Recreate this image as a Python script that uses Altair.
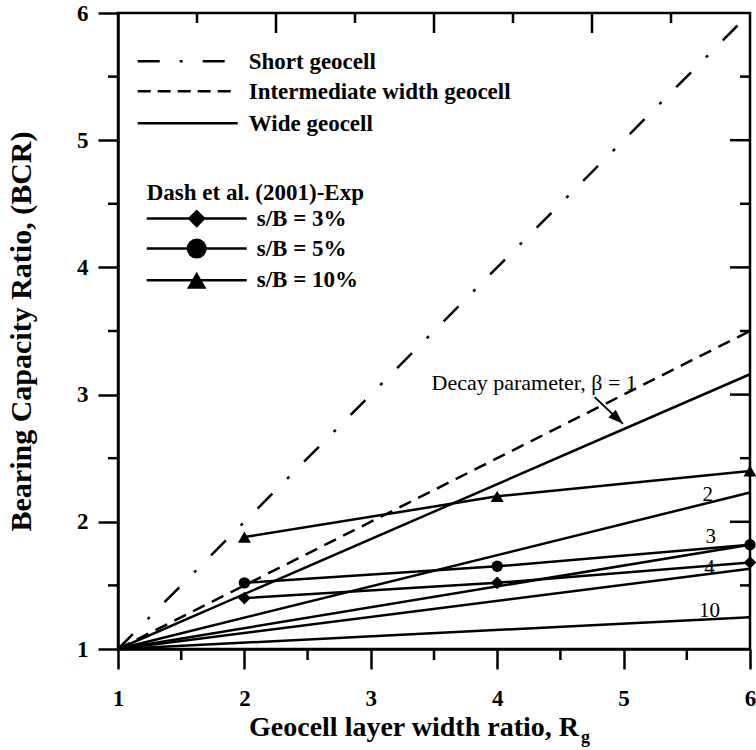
import math
import altair as alt
import pandas as pd

FONT = "Liberation Serif"

# ---------------- data ----------------
rg_ends = [1, 6]
short_bcr = [1.0, 6.0]
intermediate_bcr = [1.0, 3.5]
betas = [1, 2, 3, 4, 10]
wide_bcr_at_6 = [3.16, 2.23, 1.82, 1.63, 1.25]

exp_rg = [2, 4, 6]
exp_sb3 = [1.40, 1.52, 1.68]
exp_sb5 = [1.52, 1.65, 1.82]
exp_sb10 = [1.88, 2.20, 2.40]

beta_label_text = ["2", "3", "4", "10"]
beta_label_rg = [5.665, 5.69, 5.68, 5.68]
beta_label_bcr = [2.21, 1.88, 1.64, 1.30]

annot_text = "Decay parameter, β = 1"
annot_rg = [5.105]
annot_bcr = [3.04]
arrow_rg = [4.771, 4.995]
arrow_bcr = [2.98, 2.77]

x_major = [1, 2, 3, 4, 5, 6]
y_major = [1, 2, 3, 4, 5, 6]
inner_major = [2, 3, 4, 5]
half_minor = [1.5, 2.5, 3.5, 4.5, 5.5]
top_major = [2.25, 3.5, 4.75]
top_minor = [1.625, 2.875, 4.125, 5.375]

# ---------------- layout ----------------
W, H = 632, 636
LW = 2.5
TW = 2.5
one = pd.DataFrame({"k": [0]})

xscale = alt.Scale(domain=[1, 6], nice=False, zero=False)
yscale = alt.Scale(domain=[1, 6], nice=False, zero=False)

common_axis = dict(grid=False, format="d", ticks=True, tickSize=20, tickWidth=TW, tickColor="black",
                   domainColor="black", domainWidth=2.5,
                   labelFont=FONT, labelFontSize=23, labelFontWeight="bold", labelColor="black",
                   labelFlush=False, labelOverlap=False)
xaxis = alt.Axis(values=x_major, title=None, labelPadding=18, **common_axis)
yaxis = alt.Axis(values=y_major, title="Bearing Capacity Ratio, (BCR)", labelPadding=10,
                 titleFont=FONT, titleFontSize=30, titleFontWeight="bold", titleColor="black",
                 titlePadding=40, **common_axis)


def X(f):
    return alt.X(f"{f}:Q", scale=xscale, axis=xaxis)


def Y(f):
    return alt.Y(f"{f}:Q", scale=yscale, axis=yaxis)


layers = []

# ---- minor / mirrored tick marks along the frame ----
tick_rows = []
for v in half_minor:
    tick_rows.append({"side": "bottom", "v": v, "len": 11})
    tick_rows.append({"side": "left", "v": v, "len": 10})
    tick_rows.append({"side": "right", "v": v, "len": 10})
for v in inner_major:
    tick_rows.append({"side": "right", "v": v, "len": 20})
for v in top_major:
    tick_rows.append({"side": "top", "v": v, "len": 20})
for v in top_minor:
    tick_rows.append({"side": "top", "v": v, "len": 10})
tick_df = pd.DataFrame(tick_rows)
ux = 5 / W
uy = 5 / H


def _ends(r):
    if r.side == "bottom":
        return r.v, r.v, 1 - r.len * uy, 1.0
    if r.side == "top":
        return r.v, r.v, 6 - r.len * uy, 6.0
    if r.side == "left":
        return 1 - r.len * ux, 1.0, r.v, r.v
    return 6 - r.len * ux, 6.0, r.v, r.v


ends = tick_df.apply(_ends, axis=1, result_type="expand")
tick_df[["x1", "x2", "y1", "y2"]] = ends

layers.append(alt.Chart(tick_df).mark_rule(color="black", strokeWidth=TW).encode(
    x=X("x1"), x2="x2:Q", y=Y("y1"), y2="y2:Q"))

# ---- model lines ----
short_df = pd.DataFrame({"rg": rg_ends, "bcr": short_bcr})
inter_df = pd.DataFrame({"rg": rg_ends, "bcr": intermediate_bcr})
wide_rows = []
for b, end in zip(betas, wide_bcr_at_6):
    for r, v in zip(rg_ends, [1.0, end]):
        wide_rows.append({"beta": b, "rg": r, "bcr": v})
wide_df = pd.DataFrame(wide_rows)

layers.append(alt.Chart(short_df).mark_line(color="black", strokeWidth=LW, strokeDash=[21, 21, 3, 21])
              .encode(x=X("rg"), y=Y("bcr")))
layers.append(alt.Chart(inter_df).mark_line(color="black", strokeWidth=LW, strokeDash=[13, 8])
              .encode(x=X("rg"), y=Y("bcr")))
layers.append(alt.Chart(wide_df).mark_line(color="black", strokeWidth=LW)
              .encode(x=X("rg"), y=Y("bcr"), detail="beta:N"))

# ---- experimental ----
exp_rows = []
for name, vals in [("sb3", exp_sb3), ("sb5", exp_sb5), ("sb10", exp_sb10)]:
    for r, v in zip(exp_rg, vals):
        exp_rows.append({"series": name, "rg": r, "bcr": v})
exp_df = pd.DataFrame(exp_rows)
layers.append(alt.Chart(exp_df).mark_line(color="black", strokeWidth=LW)
              .encode(x=X("rg"), y=Y("bcr"), detail="series:N"))
for name, shape, size in [("sb3", "diamond", 160), ("sb5", "circle", 130), ("sb10", "triangle-up", 170)]:
    layers.append(alt.Chart(exp_df).transform_filter(alt.datum.series == name)
                  .mark_point(shape=shape, filled=True, color="black", opacity=1, size=size)
                  .encode(x=X("rg"), y=Y("bcr")))

# ---- beta labels ----
bl_df = pd.DataFrame({"t": beta_label_text, "rg": beta_label_rg, "bcr": beta_label_bcr})
layers.append(alt.Chart(bl_df).mark_text(font=FONT, fontSize=21, color="black", align="center",
                                         baseline="middle")
              .encode(x=X("rg"), y=Y("bcr"), text="t:N"))

# ---- annotation + arrow ----
an_df = pd.DataFrame({"t": [annot_text], "rg": annot_rg, "bcr": annot_bcr})
layers.append(alt.Chart(an_df).mark_text(font=FONT, fontSize=22, color="black", align="right",
                                         baseline="alphabetic")
              .encode(x=X("rg"), y=Y("bcr"), text="t:N"))
arrow_df = pd.DataFrame({"rg": arrow_rg, "bcr": arrow_bcr})
layers.append(alt.Chart(arrow_df).mark_line(color="black", strokeWidth=2)
              .encode(x=X("rg"), y=Y("bcr")))
dx = (arrow_rg[1] - arrow_rg[0]) * W / 5
dy = (arrow_bcr[0] - arrow_bcr[1]) * H / 5
ang = math.degrees(math.atan2(dy, dx))
head_df = pd.DataFrame({"rg": arrow_rg[1:], "bcr": arrow_bcr[1:]})
layers.append(alt.Chart(head_df).mark_point(shape="M0,0L-1,-0.36L-1,0.36Z", filled=True, color="black",
                                            opacity=1, size=900, angle=ang)
              .encode(x=X("rg"), y=Y("bcr")))


# ---- legends (layout) ----
def hline(x1, x2, y, dash=None):
    kw = dict(color="black", strokeWidth=LW)
    if dash:
        kw["strokeDash"] = dash
    return alt.Chart(one).mark_rule(**kw).encode(x=alt.value(x1), x2=alt.value(x2), y=alt.value(y))


def label(text, x, y, size=23, weight="bold", align="left", baseline="alphabetic"):
    return alt.Chart(one).mark_text(text=text, font=FONT, fontSize=size, fontWeight=weight,
                                    color="black", align=align, baseline=baseline).encode(
        x=alt.value(x), y=alt.value(y))


def marker(shape, x, y, size):
    return alt.Chart(one).mark_point(shape=shape, filled=True, color="black", opacity=1,
                                     size=size).encode(x=alt.value(x), y=alt.value(y))


leg1 = [("Short geocell", [22, 20, 3, 20]), ("Intermediate width geocell", [13, 7]), ("Wide geocell", None)]
leg1_y = [48.3, 78.3, 110.3]
for (txt, dash), yy in zip(leg1, leg1_y):
    layers.append(hline(19.7, 119.7, yy, dash))
    layers.append(label(txt, 130.7, yy + 8))

layers.append(label("Dash et al. (2001)-Exp", 28.7, 186.6))
leg2 = [("s/B = 3%", "diamond", 330), ("s/B = 5%", "circle", 400), ("s/B = 10%", "triangle-up", 380)]
leg2_y = [205.6, 235.6, 267.3]
for (txt, shp, sz), yy in zip(leg2, leg2_y):
    layers.append(hline(28.7, 128.7, yy))
    layers.append(marker(shp, 78.7, yy, sz))
    layers.append(label(txt, 138.7, yy + 7))

# ---- x-axis title with subscript ----
layers.append(label("Geocell layer width ratio, R", 461, 723, size=28, align="right"))
layers.append(label("g", 463, 730, size=18, align="left"))

chart = alt.layer(*layers).properties(
    width=W, height=H,
    autosize=alt.AutoSizeParams(type="none"),
    padding={"left": 118, "top": 13, "right": 6, "bottom": 101},
    background="white",
).configure_view(stroke="black", strokeWidth=2.5)

chart.save("out.html", embed_options={"renderer": "svg", "actions": False})
